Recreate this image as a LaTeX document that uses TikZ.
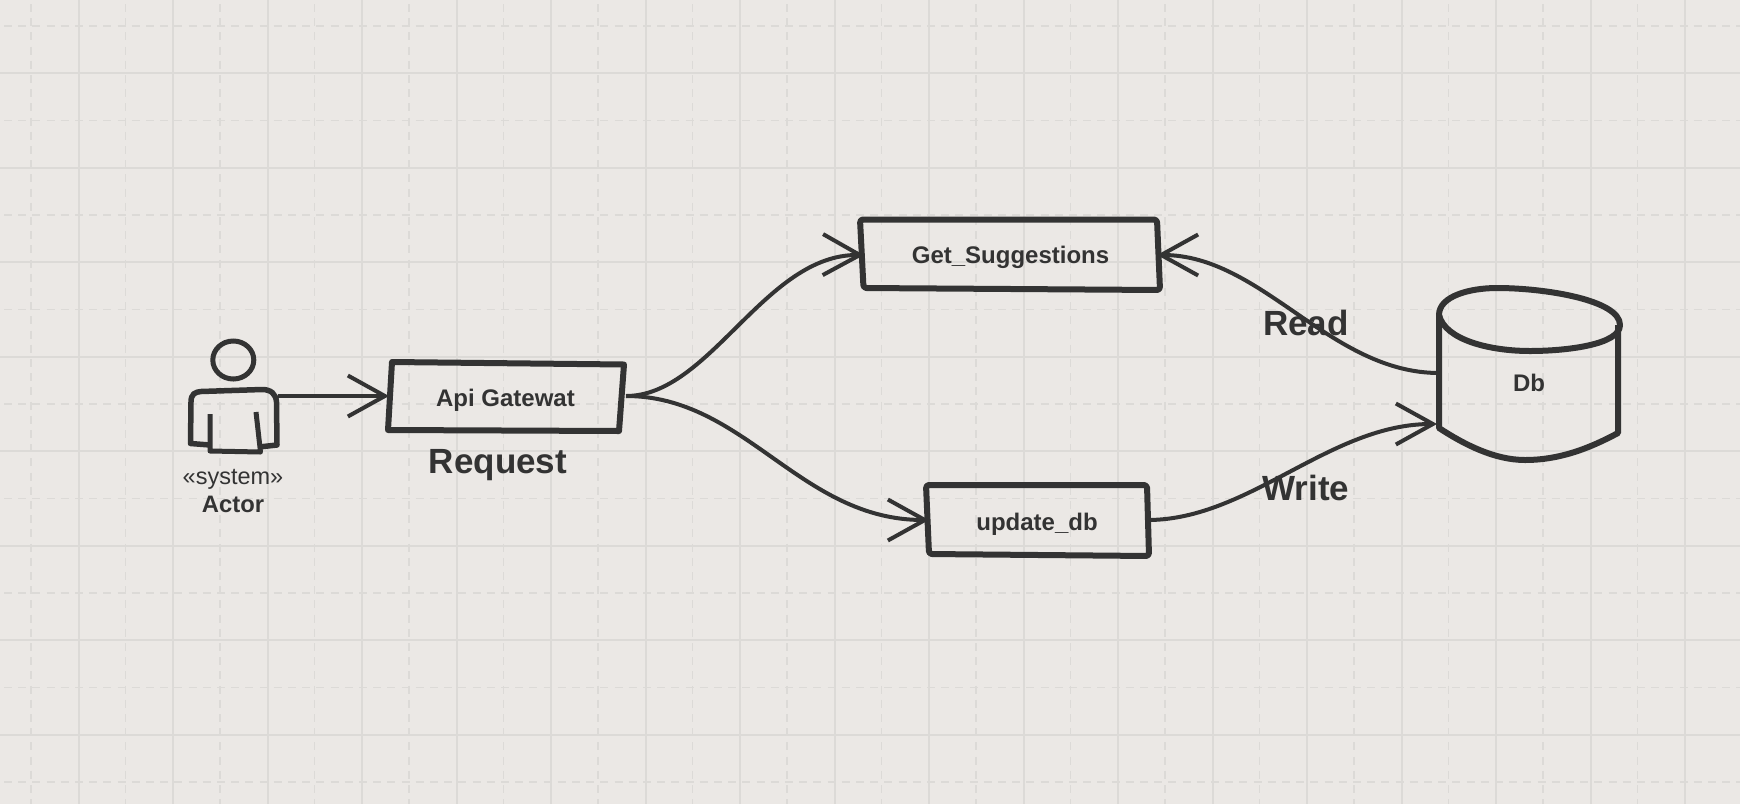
\documentclass[tikz,border=0pt]{standalone}
\usepackage{fontspec}
\setmainfont{Liberation Sans}
\usetikzlibrary{arrows.meta}
\definecolor{bgc}{HTML}{EBE8E5}
\definecolor{gridc}{HTML}{DCDAD7}
\definecolor{inkc}{HTML}{333333}
\tikzset{
  gridsolid/.style={draw=gridc,line width=2pt},
  griddash/.style={draw=gridc,line width=1.8pt,dash pattern=on 8pt off 6.2pt},
  outline/.style={draw=inkc,line width=6pt,line join=round},
  link/.style={draw=inkc,line width=4pt,shorten >=-4pt,-{Straight Barb[length=37pt,width=41pt,line width=4pt]}},
  anchorbox/.style={inner sep=0pt,outer sep=0pt,text=inkc,font=\fontsize{24}{28}\selectfont\bfseries},
  biglabel/.style={inner sep=0pt,text=inkc,font=\fontsize{35}{40}\selectfont\bfseries},
  smalltext/.style={inner sep=0pt,text=inkc,font=\fontsize{23.5}{28}\selectfont},
}
\begin{document}
\begin{tikzpicture}[x=1pt,y=-1pt]
\useasboundingbox (0,0) rectangle (1740,804);
\fill[bgc] (0,0) rectangle (1740,804);
% grid
\foreach \k in {0,...,17}{
  \draw[griddash] ({31+94.5*\k},4) -- ({31+94.5*\k},804);
  \draw[gridsolid] ({78.5+94.5*\k},0) -- ({78.5+94.5*\k},804);
}
\foreach \k in {0,...,8}{
  \draw[griddash] (4,{26+94.5*\k}) -- (1740,{26+94.5*\k});
  \draw[gridsolid] (0,{73+94.5*\k}) -- (1740,{73+94.5*\k});
}
% named nodes
\node[anchorbox,minimum width=89pt,minimum height=60pt] (actor) at (233.5,396) {};
\node[anchorbox,minimum width=241pt,minimum height=68pt] (api) at (505.5,396) {\raisebox{-10pt}[0pt][0pt]{Api Gatewat}};
\node[anchorbox,minimum width=301pt,minimum height=70pt] (gets) at (1010.5,255) {\raisebox{-8.5pt}[0pt][0pt]{Get\_Suggestions}};
\node[anchorbox,minimum width=224pt,minimum height=70pt] (upd) at (1037,520) {\raisebox{-10pt}[0pt][0pt]{update\_db}};
\node[anchorbox,minimum width=180pt,minimum height=60pt] (db) at (1529,382.5) {Db};
\node[smalltext] (stereo) at (233,479) {«system»};
\node[smalltext,font=\fontsize{23.8}{28}\selectfont\bfseries] (actorname) at (233,504) {Actor};
\node[biglabel] (lreq) at (498,465.5) {Request};
\node[biglabel] (lread) at (1306,323) {Read};
\node[biglabel] (lwrite) at (1306,488) {Write};
% actor
\draw[draw=inkc,line width=5pt] (233.3,360) ellipse [x radius=20.5,y radius=19];
\draw[draw=inkc,line width=5.5pt,line join=round]
  (210,445) -- (190.5,443.5) -- (191,402) .. controls (191,394) and (195,392) .. (201,391.5)
  -- (262,389.5) .. controls (271,389.5) and (276,394) .. (276.5,402) -- (277,445) -- (259,447);
\draw[draw=inkc,line width=5pt,line join=round]
  (210,414) -- (210,451) -- (260.5,452) -- (256,412);
% boxes
\draw[outline] (392,362) -- (624,364.5) -- (619,431) -- (388,430) -- cycle;
\draw[outline,rounded corners=3pt] (860,219.5) -- (1157,219.5) -- (1160,290) -- (863.5,288) -- cycle;
\draw[outline,rounded corners=3pt] (926,485) -- (1147,485) -- (1149,556) -- (929,554) -- cycle;
% cylinder
\draw[outline] (1439,315) .. controls (1439,296) and (1470,288) .. (1497,288)
  .. controls (1545,288) and (1620,300) .. (1620,325)
  .. controls (1620,345) and (1565,351) .. (1530,351)
  .. controls (1490,351) and (1445,340) .. (1439,315) -- cycle;
\draw[outline,line cap=butt] (1439,315) -- (1439,428) .. controls (1465,445) and (1495,460) .. (1525,460)
  .. controls (1560,460) and (1590,448) .. (1618,433) -- (1618,325);
% connectors
\draw[link] (actor.east) -- (api.west);
\draw[link] (api.east) .. controls (710,396) and (765,254) .. (gets.west);
\draw[link] (api.east) .. controls (745,396) and (800,520) .. (upd.west);
\draw[link] ([yshift=9.5pt]db.west) .. controls (1330,373) and (1262,255) .. (gets.east);
\draw[link] (upd.east) .. controls (1250,519) and (1330,424) .. ([xshift=-6pt,yshift=-41.5pt]db.west);
\end{tikzpicture}
\end{document}
